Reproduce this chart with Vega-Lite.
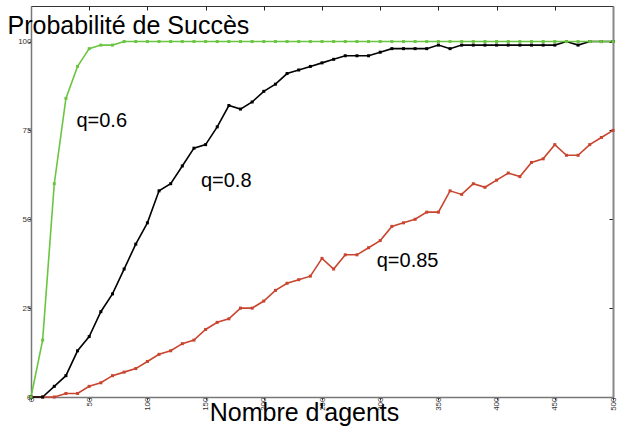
{
  "$schema": "https://vega.github.io/schema/vega-lite/v6.json",
  "width": 582,
  "height": 391,
  "autosize": {"type": "none"},
  "padding": {"left": 31, "top": 6, "right": 9, "bottom": 32},
  "background": "white",
  "config": {
    "view": {"stroke": "#333", "strokeWidth": 1},
    "font": "Liberation Sans"
  },
  "datasets": {
    "series": [
      {"n":0,"p":0,"q":"0.85"},{"n":10,"p":0,"q":"0.85"},{"n":20,"p":0,"q":"0.85"},{"n":30,"p":1,"q":"0.85"},{"n":40,"p":1,"q":"0.85"},{"n":50,"p":3,"q":"0.85"},{"n":60,"p":4,"q":"0.85"},{"n":70,"p":6,"q":"0.85"},{"n":80,"p":7,"q":"0.85"},{"n":90,"p":8,"q":"0.85"},{"n":100,"p":10,"q":"0.85"},{"n":110,"p":12,"q":"0.85"},{"n":120,"p":13,"q":"0.85"},{"n":130,"p":15,"q":"0.85"},{"n":140,"p":16,"q":"0.85"},{"n":150,"p":19,"q":"0.85"},{"n":160,"p":21,"q":"0.85"},{"n":170,"p":22,"q":"0.85"},{"n":180,"p":25,"q":"0.85"},{"n":190,"p":25,"q":"0.85"},{"n":200,"p":27,"q":"0.85"},{"n":210,"p":30,"q":"0.85"},{"n":220,"p":32,"q":"0.85"},{"n":230,"p":33,"q":"0.85"},{"n":240,"p":34,"q":"0.85"},{"n":250,"p":39,"q":"0.85"},{"n":260,"p":36,"q":"0.85"},{"n":270,"p":40,"q":"0.85"},{"n":280,"p":40,"q":"0.85"},{"n":290,"p":42,"q":"0.85"},{"n":300,"p":44,"q":"0.85"},{"n":310,"p":48,"q":"0.85"},{"n":320,"p":49,"q":"0.85"},{"n":330,"p":50,"q":"0.85"},{"n":340,"p":52,"q":"0.85"},{"n":350,"p":52,"q":"0.85"},{"n":360,"p":58,"q":"0.85"},{"n":370,"p":57,"q":"0.85"},{"n":380,"p":60,"q":"0.85"},{"n":390,"p":59,"q":"0.85"},{"n":400,"p":61,"q":"0.85"},{"n":410,"p":63,"q":"0.85"},{"n":420,"p":62,"q":"0.85"},{"n":430,"p":66,"q":"0.85"},{"n":440,"p":67,"q":"0.85"},{"n":450,"p":71,"q":"0.85"},{"n":460,"p":68,"q":"0.85"},{"n":470,"p":68,"q":"0.85"},{"n":480,"p":71,"q":"0.85"},{"n":490,"p":73,"q":"0.85"},{"n":500,"p":75,"q":"0.85"},
      {"n":0,"p":0,"q":"0.8"},{"n":10,"p":0,"q":"0.8"},{"n":20,"p":3,"q":"0.8"},{"n":30,"p":6,"q":"0.8"},{"n":40,"p":13,"q":"0.8"},{"n":50,"p":17,"q":"0.8"},{"n":60,"p":24,"q":"0.8"},{"n":70,"p":29,"q":"0.8"},{"n":80,"p":36,"q":"0.8"},{"n":90,"p":43,"q":"0.8"},{"n":100,"p":49,"q":"0.8"},{"n":110,"p":58,"q":"0.8"},{"n":120,"p":60,"q":"0.8"},{"n":130,"p":65,"q":"0.8"},{"n":140,"p":70,"q":"0.8"},{"n":150,"p":71,"q":"0.8"},{"n":160,"p":76,"q":"0.8"},{"n":170,"p":82,"q":"0.8"},{"n":180,"p":81,"q":"0.8"},{"n":190,"p":83,"q":"0.8"},{"n":200,"p":86,"q":"0.8"},{"n":210,"p":88,"q":"0.8"},{"n":220,"p":91,"q":"0.8"},{"n":230,"p":92,"q":"0.8"},{"n":240,"p":93,"q":"0.8"},{"n":250,"p":94,"q":"0.8"},{"n":260,"p":95,"q":"0.8"},{"n":270,"p":96,"q":"0.8"},{"n":280,"p":96,"q":"0.8"},{"n":290,"p":96,"q":"0.8"},{"n":300,"p":97,"q":"0.8"},{"n":310,"p":98,"q":"0.8"},{"n":320,"p":98,"q":"0.8"},{"n":330,"p":98,"q":"0.8"},{"n":340,"p":98,"q":"0.8"},{"n":350,"p":99,"q":"0.8"},{"n":360,"p":98,"q":"0.8"},{"n":370,"p":99,"q":"0.8"},{"n":380,"p":99,"q":"0.8"},{"n":390,"p":99,"q":"0.8"},{"n":400,"p":99,"q":"0.8"},{"n":410,"p":99,"q":"0.8"},{"n":420,"p":99,"q":"0.8"},{"n":430,"p":99,"q":"0.8"},{"n":440,"p":99,"q":"0.8"},{"n":450,"p":99,"q":"0.8"},{"n":460,"p":100,"q":"0.8"},{"n":470,"p":99,"q":"0.8"},{"n":480,"p":100,"q":"0.8"},{"n":490,"p":100,"q":"0.8"},{"n":500,"p":100,"q":"0.8"},
      {"n":0,"p":0,"q":"0.6"},{"n":10,"p":16,"q":"0.6"},{"n":20,"p":60,"q":"0.6"},{"n":30,"p":84,"q":"0.6"},{"n":40,"p":93,"q":"0.6"},{"n":50,"p":98,"q":"0.6"},{"n":60,"p":99,"q":"0.6"},{"n":70,"p":99,"q":"0.6"},{"n":80,"p":100,"q":"0.6"},{"n":90,"p":100,"q":"0.6"},{"n":100,"p":100,"q":"0.6"},{"n":110,"p":100,"q":"0.6"},{"n":120,"p":100,"q":"0.6"},{"n":130,"p":100,"q":"0.6"},{"n":140,"p":100,"q":"0.6"},{"n":150,"p":100,"q":"0.6"},{"n":160,"p":100,"q":"0.6"},{"n":170,"p":100,"q":"0.6"},{"n":180,"p":100,"q":"0.6"},{"n":190,"p":100,"q":"0.6"},{"n":200,"p":100,"q":"0.6"},{"n":210,"p":100,"q":"0.6"},{"n":220,"p":100,"q":"0.6"},{"n":230,"p":100,"q":"0.6"},{"n":240,"p":100,"q":"0.6"},{"n":250,"p":100,"q":"0.6"},{"n":260,"p":100,"q":"0.6"},{"n":270,"p":100,"q":"0.6"},{"n":280,"p":100,"q":"0.6"},{"n":290,"p":100,"q":"0.6"},{"n":300,"p":100,"q":"0.6"},{"n":310,"p":100,"q":"0.6"},{"n":320,"p":100,"q":"0.6"},{"n":330,"p":100,"q":"0.6"},{"n":340,"p":100,"q":"0.6"},{"n":350,"p":100,"q":"0.6"},{"n":360,"p":100,"q":"0.6"},{"n":370,"p":100,"q":"0.6"},{"n":380,"p":100,"q":"0.6"},{"n":390,"p":100,"q":"0.6"},{"n":400,"p":100,"q":"0.6"},{"n":410,"p":100,"q":"0.6"},{"n":420,"p":100,"q":"0.6"},{"n":430,"p":100,"q":"0.6"},{"n":440,"p":100,"q":"0.6"},{"n":450,"p":100,"q":"0.6"},{"n":460,"p":100,"q":"0.6"},{"n":470,"p":100,"q":"0.6"},{"n":480,"p":100,"q":"0.6"},{"n":490,"p":100,"q":"0.6"},{"n":500,"p":100,"q":"0.6"}
    ],
    "labels": [
      {"n":39,"p":76,"label":"q=0.6"},
      {"n":146,"p":59,"label":"q=0.8"},
      {"n":297,"p":36.5,"label":"q=0.85"}
    ]
  },
  "resolve": {"axis": {"x": "independent", "y": "independent"}},
  "layer": [
    {
      "data": {"name": "series"},
      "mark": {"type": "line", "strokeWidth": 1.6, "point": {"shape": "square", "size": 9, "filled": true}},
      "encoding": {
        "x": {"field": "n", "type": "quantitative",
          "scale": {"domain": [0, 500], "nice": false, "zero": false},
          "axis": {"orient": "bottom", "values": [0,50,100,150,200,250,300,350,400,450,500],
            "labelAngle": 270, "labelFontSize": 8, "labelColor": "#333", "labelFont": "Liberation Sans",
            "tickSize": 3, "tickColor": "#333", "labelPadding": -3, "domainColor": "#777", "domainWidth": 1.5, "grid": false,
            "title": "Nombre d'agents", "titleFontSize": 25, "titleFontWeight": "normal", "titleFont": "Liberation Sans",
            "titleColor": "black", "titleX": 273, "titleY": 23, "titleBaseline": "alphabetic", "titleAnchor": "middle", "titleAlign": "center"}},
        "y": {"field": "p", "type": "quantitative",
          "scale": {"domain": [0, 110], "nice": false},
          "axis": {"orient": "left", "values": [0,25,50,75,100], "labelFontSize": 8, "labelColor": "#333", "labelFont": "Liberation Sans",
            "tickSize": 3, "tickColor": "#333", "labelPadding": -3, "domainColor": "#777", "domainWidth": 1.5, "grid": false,
            "title": "Probabilité de Succès", "titleAngle": 0, "titleAlign": "left", "titleBaseline": "alphabetic",
            "titleX": -24, "titleY": 27, "titleFontSize": 25, "titleFontWeight": "normal", "titleFont": "Liberation Sans", "titleColor": "black"}},
        "color": {"field": "q", "type": "nominal", "legend": null,
          "scale": {"domain": ["0.6", "0.8", "0.85"], "range": ["#6cc541", "#000000", "#c9452f"]}}
      }
    },
    {
      "data": {"name": "labels"},
      "mark": {"type": "text", "align": "left", "baseline": "alphabetic", "fontSize": 20, "font": "Liberation Sans", "color": "black"},
      "encoding": {
        "x": {"field": "n", "type": "quantitative",
          "axis": {"orient": "top", "values": [50,100,150,200,250,300,350,400,450], "labels": false, "tickSize": -4, "tickColor": "#222", "domain": false, "grid": false, "title": null}},
        "y": {"field": "p", "type": "quantitative",
          "axis": {"orient": "right", "values": [25,50,75,100], "labels": false, "tickSize": -4, "tickColor": "#222", "domainColor": "#888", "domainWidth": 2, "grid": false, "title": null}},
        "text": {"field": "label"}
      }
    }
  ]
}
